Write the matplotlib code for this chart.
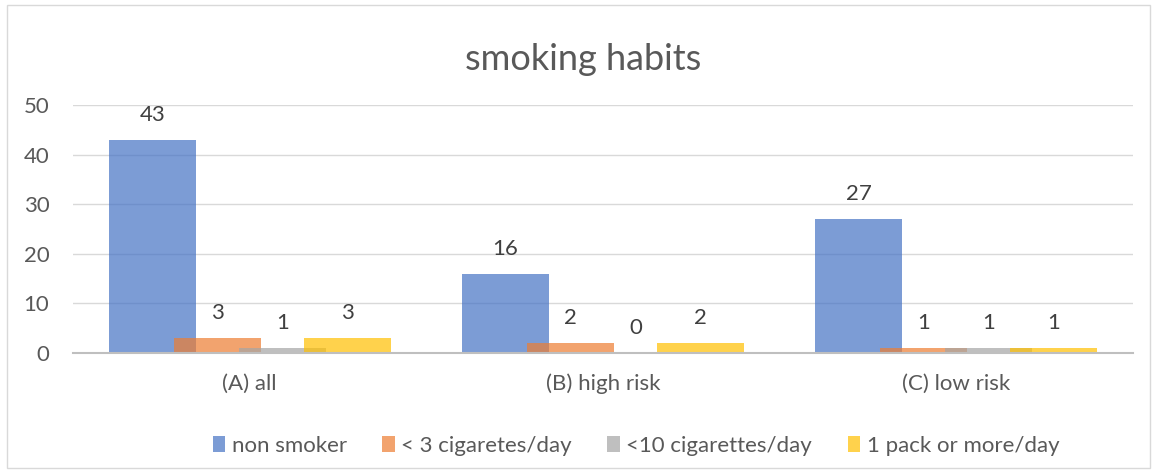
import numpy as np
import matplotlib.pyplot as plt
from matplotlib.patches import Rectangle

plt.rcParams["font.family"] = ["Lato", "DejaVu Sans"]

groups = ["(A) all", "(B) high risk", "(C) low risk"]
series = ["non smoker", "< 3 cigaretes/day", "<10 cigarettes/day", "1 pack or more/day"]
non_smoker = [43, 16, 27]
lt3 = [3, 2, 1]
lt10 = [1, 0, 1]
pack = [3, 2, 1]
values = [non_smoker, lt3, lt10, pack]
colors = ["#4472C4", "#ED7D31", "#A5A5A5", "#FFC000"]

W, H = 1153, 474
fig = plt.figure(figsize=(W / 100, H / 100), dpi=100)
ax = fig.add_axes([73 / W, 1 - 353 / H, (1133 - 73) / W, (353 - 105) / H])

x = np.arange(len(groups))
width = 0.246
step = 0.184
for k, (name, vals, c) in enumerate(zip(series, values, colors)):
    pos = x + (k - 1.5) * step
    bars = ax.bar(pos, vals, width, color=c, alpha=0.7, label=name, zorder=2)
    for b, v in zip(bars, vals):
        ax.text(b.get_x() + b.get_width() / 2, v + 3.0, str(v), ha="center",
                va="bottom", fontsize=16, color="#404040")

ax.set_xlim(-0.5, 2.5)
ax.set_ylim(0, 50)
ax.set_yticks(range(0, 51, 10))
ax.yaxis.grid(True, color="#D9D9D9", linewidth=1, zorder=0)
ax.set_xticks(x)
ax.set_xticklabels(groups)
ax.tick_params(axis="both", length=0, labelsize=16, labelcolor="#595959")
ax.tick_params(axis="x", pad=15)
ax.tick_params(axis="y", pad=17)
for s in ["top", "right", "left"]:
    ax.spines[s].set_visible(False)
ax.spines["bottom"].set_color("#BFBFBF")
ax.spines["bottom"].set_linewidth(1.5)
ax.spines["bottom"].set_zorder(3)

fig.text(583 / W, 1 - 60 / H, "smoking habits", ha="center", va="center",
         fontsize=26, color="#595959")

leg = fig.legend(loc="center", bbox_to_anchor=(636 / W, 1 - 446 / H), ncol=4,
                 frameon=False, fontsize=16, handlelength=0.55, handleheight=0.7,
                 columnspacing=1.6, handletextpad=0.3, labelcolor="#595959")
for h in leg.legend_handles:
    h.set_alpha(0.7)

fig.add_artist(Rectangle((7 / W, 1 - 468 / H), (1150 - 7) / W, (468 - 5) / H,
                         transform=fig.transFigure, fill=False,
                         edgecolor="#D9D9D9", linewidth=1))

fig.savefig("out.png", dpi=100)
